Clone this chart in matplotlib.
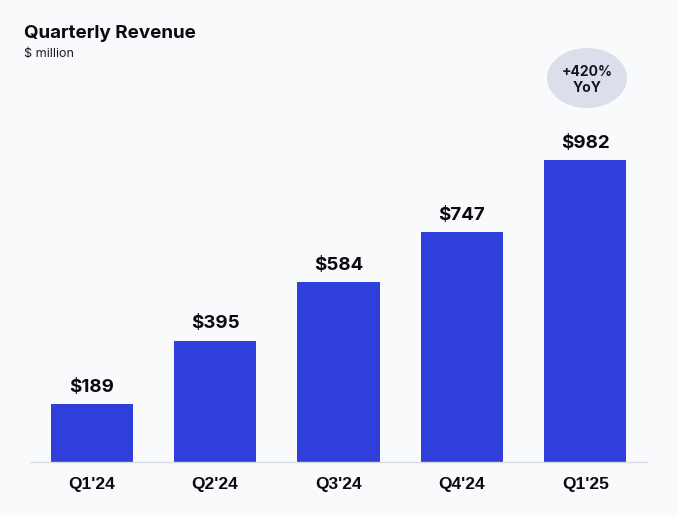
import matplotlib
matplotlib.use("Agg")
import matplotlib.pyplot as plt
from matplotlib.patches import Ellipse

quarters = ["Q1'24", "Q2'24", "Q3'24", "Q4'24", "Q1'25"]
revenue = [189, 395, 584, 747, 982]

W, H = 678, 516
BG = "#f9fafc"
BLUE = "#2e3fdb"

fig = plt.figure(figsize=(W / 100, H / 100), dpi=100, facecolor=BG)

# axes placed in pixels, baseline at y=462
ax = fig.add_axes([30 / W, (H - 462) / H, 617 / W, 462 / H])
ax.set_facecolor("none")
ax.bar(range(len(revenue)), revenue, width=0.667, color=BLUE)
ax.set_xlim(-0.5, 4.5)
ax.set_ylim(0, 1502)

for s in ["top", "left", "right"]:
    ax.spines[s].set_visible(False)
ax.spines["bottom"].set_color("#d9dbe3")
ax.spines["bottom"].set_linewidth(1)

ax.set_yticks([])
ax.set_xticks(range(len(quarters)))
ax.set_xticklabels(quarters, family="Liberation Sans", fontweight="bold", fontsize=12.5, color="#0b0b0f")
ax.tick_params(axis="x", length=0, pad=10.5)

# value labels
for i, v in enumerate(revenue):
    ax.annotate(f"${v}", (i, v), xytext=(0, 6), textcoords="offset points", ha="center", va="bottom",
                family="Inter", fontweight="bold", fontsize=13.5, color="#0b0b0f")

# title
fig.text(24 / W, 1 - 33 / H, "Quarterly Revenue", family="Inter", fontweight="bold", fontsize=13.5,
         color="#0b0b0f", ha="left", va="center")
fig.text(24 / W, 1 - 53.5 / H, "$ million", family="Inter", fontsize=9, color="#1a1a20",
         ha="left", va="center", parse_math=False)

# YoY bubble
fig.add_artist(Ellipse((587 / W, 1 - 78 / H), 80 / W, 60 / H, transform=fig.transFigure,
                       facecolor="#dcdfeb", edgecolor="none"))
fig.text(587 / W, 1 - 80 / H, "+420%\nYoY", family="Inter", fontweight="bold", fontsize=10,
         color="#16161c", ha="center", va="center", linespacing=1.25)

fig.savefig("out.png", dpi=100, facecolor=BG)
